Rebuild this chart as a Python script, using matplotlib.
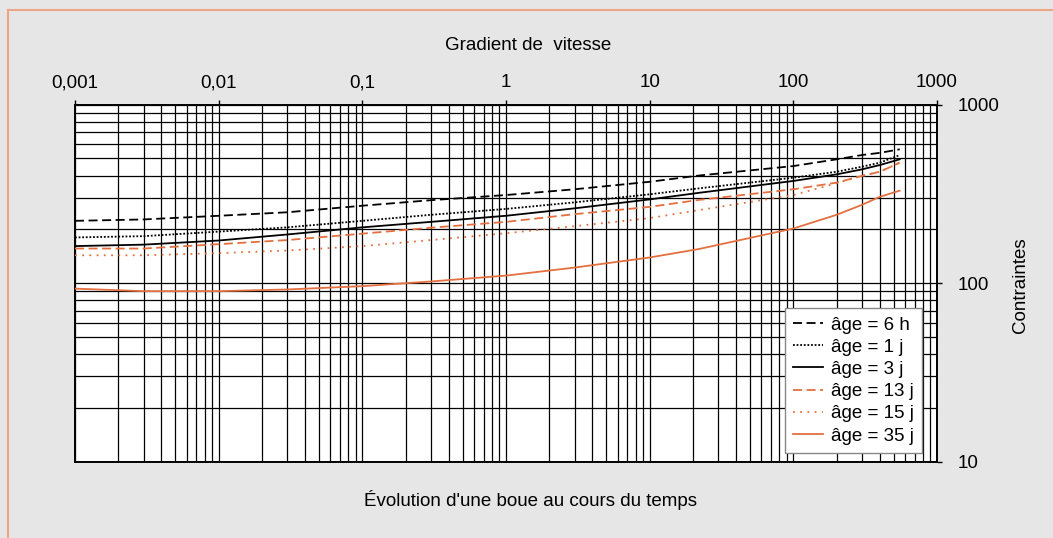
import numpy as np
import matplotlib
matplotlib.use("Agg")
import matplotlib.pyplot as plt
from matplotlib.lines import Line2D
from matplotlib.ticker import FixedLocator, LogLocator, NullFormatter

plt.rcParams['font.family'] = ['Liberation Sans', 'DejaVu Sans']

# gradient de vitesse (x) et contraintes
gradient = [0.001, 0.003, 0.01, 0.03, 0.1, 0.3, 1, 3, 10, 22, 100, 200, 300, 400, 550]
age_6h  = [223, 227, 238, 249, 271, 291, 311, 335, 369, 400, 452, 493, 521, 536, 561]
age_1j  = [180, 183, 194, 205, 223, 241, 260, 283, 314, 339, 389, 420, 448, 472, 521]
age_3j  = [161, 164, 173, 187, 205, 220, 238, 262, 294, 320, 373, 406, 433, 458, 493]
age_13j = [156, 156, 165, 174, 189, 204, 220, 243, 267, 292, 335, 365, 398, 420, 472]
age_15j = [143, 143, 147, 152, 161, 174, 190, 208, 231, 256, 311, 362, 398, 420, 472]
age_35j = [93, 90, 90, 92, 96, 102, 110, 122, 139, 155, 202, 241, 274, 304, 329]

labels = ['âge = 6 h', 'âge = 1 j', 'âge = 3 j', 'âge = 13 j', 'âge = 15 j', 'âge = 35 j']
x_ticks = [0.001, 0.01, 0.1, 1, 10, 100, 1000]
x_ticklabels = ['0,001', '0,01', '0,1', '1', '10', '100', '1000']
y_ticks = [10, 100, 1000]
y_ticklabels = ['10', '100', '1000']

orange = '#e4703f'
styles = [
    ('black', (0, (5, 2.5))),
    ('black', (0, (1, 1))),
    ('black', '-'),
    (orange, (0, (5, 2.5))),
    (orange, (0, (1, 3))),
    (orange, '-'),
]
series = [age_6h, age_1j, age_3j, age_13j, age_15j, age_35j]

fs = 13.5
fig = plt.figure(figsize=(10.53, 5.38), dpi=100, facecolor='#e6e6e6')
ax = fig.add_axes([75/1053, 1-461.5/538, (937-75)/1053, (461.5-104.5)/538])
ax.set_facecolor('white')

for vals, lab, (c, ls) in zip(series, labels, styles):
    ax.plot(gradient, vals, color=c, linestyle=ls, linewidth=1.3, label=lab, zorder=3)

ax.set_xscale('log')
ax.set_yscale('log')
ax.set_xlim(0.001, 1000)
ax.set_ylim(10, 1000)

ax.xaxis.set_major_locator(FixedLocator(x_ticks))
ax.set_xticklabels(x_ticklabels)
ax.yaxis.set_major_locator(FixedLocator(y_ticks))
ax.set_yticklabels(y_ticklabels)
ax.xaxis.set_minor_locator(LogLocator(base=10, subs=np.arange(2, 10), numticks=20))
ax.yaxis.set_minor_locator(LogLocator(base=10, subs=np.arange(2, 10), numticks=20))
ax.xaxis.set_minor_formatter(NullFormatter())
ax.yaxis.set_minor_formatter(NullFormatter())

ax.xaxis.tick_top()
ax.yaxis.tick_right()
ax.tick_params(which='major', direction='out', length=3.5, width=1, labelsize=fs, colors='black')
ax.tick_params(axis='x', which='major', pad=6)
ax.tick_params(axis='y', which='major', pad=11)
ax.tick_params(which='minor', length=0)

ax.grid(True, which='both', color='black', linewidth=0.9, zorder=1)
ax.set_axisbelow(True)
for s in ax.spines.values():
    s.set_linewidth(1.4)
    s.set_color('black')

leg = ax.legend(loc='lower right', bbox_to_anchor=(922/1053, 1-453/538), bbox_transform=fig.transFigure,
                fontsize=fs, frameon=True, fancybox=False, framealpha=1, edgecolor='#888888',
                handlelength=1.6, handletextpad=0.4, labelspacing=0.27, borderpad=0.45, borderaxespad=0)
leg.get_frame().set_linewidth(1.0)

fig.text(528/1053, 1-46/538, 'Gradient de  vitesse', ha='center', va='center', fontsize=fs)
fig.text(1020/1053, 1-285/538, 'Contraintes', ha='center', va='center', rotation=90, fontsize=fs)
fig.text(530/1053, 1-500/538, "Évolution d'une boue au cours du temps", ha='center', va='center', fontsize=fs)

# cadre orange (haut et gauche)
fig.add_artist(Line2D([7.5/1053, 7.5/1053], [0, 1-10/538], color='#eba688', linewidth=1.5, transform=fig.transFigure))
fig.add_artist(Line2D([7.5/1053, 1], [1-10/538, 1-10/538], color='#eba688', linewidth=1.5, transform=fig.transFigure))

fig.savefig('out.png', dpi=100, facecolor=fig.get_facecolor())
